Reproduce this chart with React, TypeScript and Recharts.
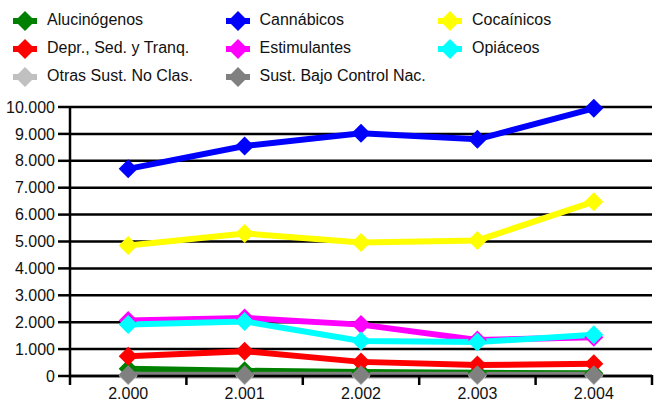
import React from "react";
import { LineChart, Line, XAxis, YAxis, CartesianGrid } from "recharts";

const years = ["2.000", "2.001", "2.002", "2.003", "2.004"];
const yTicks = [0, 1000, 2000, 3000, 4000, 5000, 6000, 7000, 8000, 9000, 10000];
const xTicks = [-0.5, 0, 0.5, 1, 1.5, 2, 2.5, 3, 3.5, 4, 4.5];

const alucinogenos = [270, 195, 145, 120, 100];
const cannabicos = [7700, 8550, 9020, 8800, 9950];
const cocainicos = [4850, 5300, 4960, 5040, 6480];
const depresores = [730, 920, 525, 405, 460];
const estimulantes = [2060, 2160, 1910, 1340, 1440];
const opiaceos = [1910, 2030, 1300, 1260, 1530];
const otras = [10, 10, 10, 10, 10];
const sustBajo = [45, 45, 45, 45, 45];

const series = [
  { key: "alu", name: "Alucinógenos", color: "#008000", values: alucinogenos },
  { key: "can", name: "Cannábicos", color: "#0000FF", values: cannabicos },
  { key: "coc", name: "Cocaínicos", color: "#FFFF00", values: cocainicos },
  { key: "dep", name: "Depr., Sed. y Tranq.", color: "#FF0000", values: depresores },
  { key: "est", name: "Estimulantes", color: "#FF00FF", values: estimulantes },
  { key: "opi", name: "Opiáceos", color: "#00FFFF", values: opiaceos },
  { key: "otr", name: "Otras Sust. No Clas.", color: "#C0C0C0", values: otras },
  { key: "sbc", name: "Sust. Bajo Control Nac.", color: "#808080", values: sustBajo },
];

const data = years.map((y, i) => {
  const row: Record<string, number | string> = { i, year: y };
  series.forEach((s) => {
    row[s.key] = s.values[i];
  });
  return row;
});

const FONT = "'Liberation Sans', Arial, sans-serif";

const fmt = (v: number) => String(v).replace(/\B(?=(\d{3})+(?!\d))/g, ".");

const Diamond = (color: string) => (props: any) => {
  const { cx, cy, index } = props;
  if (cx == null || cy == null) return <g key={index} />;
  const r = 9.5;
  return (
    <polygon
      key={index}
      points={`${cx},${cy - r} ${cx + r},${cy} ${cx},${cy + r} ${cx - r},${cy}`}
      fill={color}
      stroke="none"
    />
  );
};

const XTick = (props: any) => {
  const { x, y, payload } = props;
  const v = payload.value as number;
  if (!Number.isInteger(v)) {
    return <line x1={x} x2={x} y1={y - 1} y2={y + 9} stroke="#000" strokeWidth={2.5} />;
  }
  return (
    <text x={x} y={y + 23} textAnchor="middle" fontSize={16} fontFamily={FONT} fill="#111">
      {years[v]}
    </text>
  );
};

export default function App() {
  return (
    <div style={{ position: "absolute", left: 0, top: 0, width: 656, height: 402, background: "#fff" }}>
      <LineChart
        width={656}
        height={402}
        data={data}
        margin={{ top: 107, right: 4, bottom: 0, left: 0 }}
      >
        <CartesianGrid vertical={false} stroke="#000" strokeWidth={2.5} strokeDasharray="" />
        <XAxis
          dataKey="i"
          type="number"
          domain={[-0.5, 4.5]}
          ticks={xTicks}
          interval={0}
          tickLine={false}
          tickSize={0}
          tickMargin={0}
          axisLine={{ stroke: "#000", strokeWidth: 2.5 }}
          height={26}
          tick={<XTick />}
        />
        <YAxis
          domain={[0, 10000]}
          ticks={yTicks}
          interval={0}
          width={70}
          tickSize={12}
          tickMargin={3}
          tickFormatter={fmt}
          tickLine={{ stroke: "#000", strokeWidth: 2.5 }}
          axisLine={{ stroke: "#000", strokeWidth: 2.5 }}
          tick={{ fontSize: 16, fontFamily: FONT, fill: "#111" }}
        />
        {series.map((s) => (
          <Line
            key={s.key}
            dataKey={s.key}
            name={s.name}
            stroke={s.color}
            strokeWidth={6}
            dot={Diamond(s.color)}
            activeDot={false}
            isAnimationActive={false}
          />
        ))}
      </LineChart>
      {series.map((s, idx) => {
        const col = idx % 3;
        const row = Math.floor(idx / 3);
        const left = 13 + col * 212.5;
        const top = 20 + row * 28;
        return (
          <div
            key={s.key}
            style={{
              position: "absolute",
              left,
              top: top - 12,
              height: 24,
              display: "flex",
              alignItems: "center",
              fontFamily: FONT,
              fontSize: 16,
              color: "#111",
              whiteSpace: "nowrap",
            }}
          >
            <svg width={34} height={24} style={{ display: "block" }}>
              <line x1={0} x2={24} y1={13} y2={13} stroke={s.color} strokeWidth={6} />
              <polygon points="12,3 22,13 12,23 2,13" fill={s.color} />
            </svg>
            <span>{s.name}</span>
          </div>
        );
      })}
    </div>
  );
}
